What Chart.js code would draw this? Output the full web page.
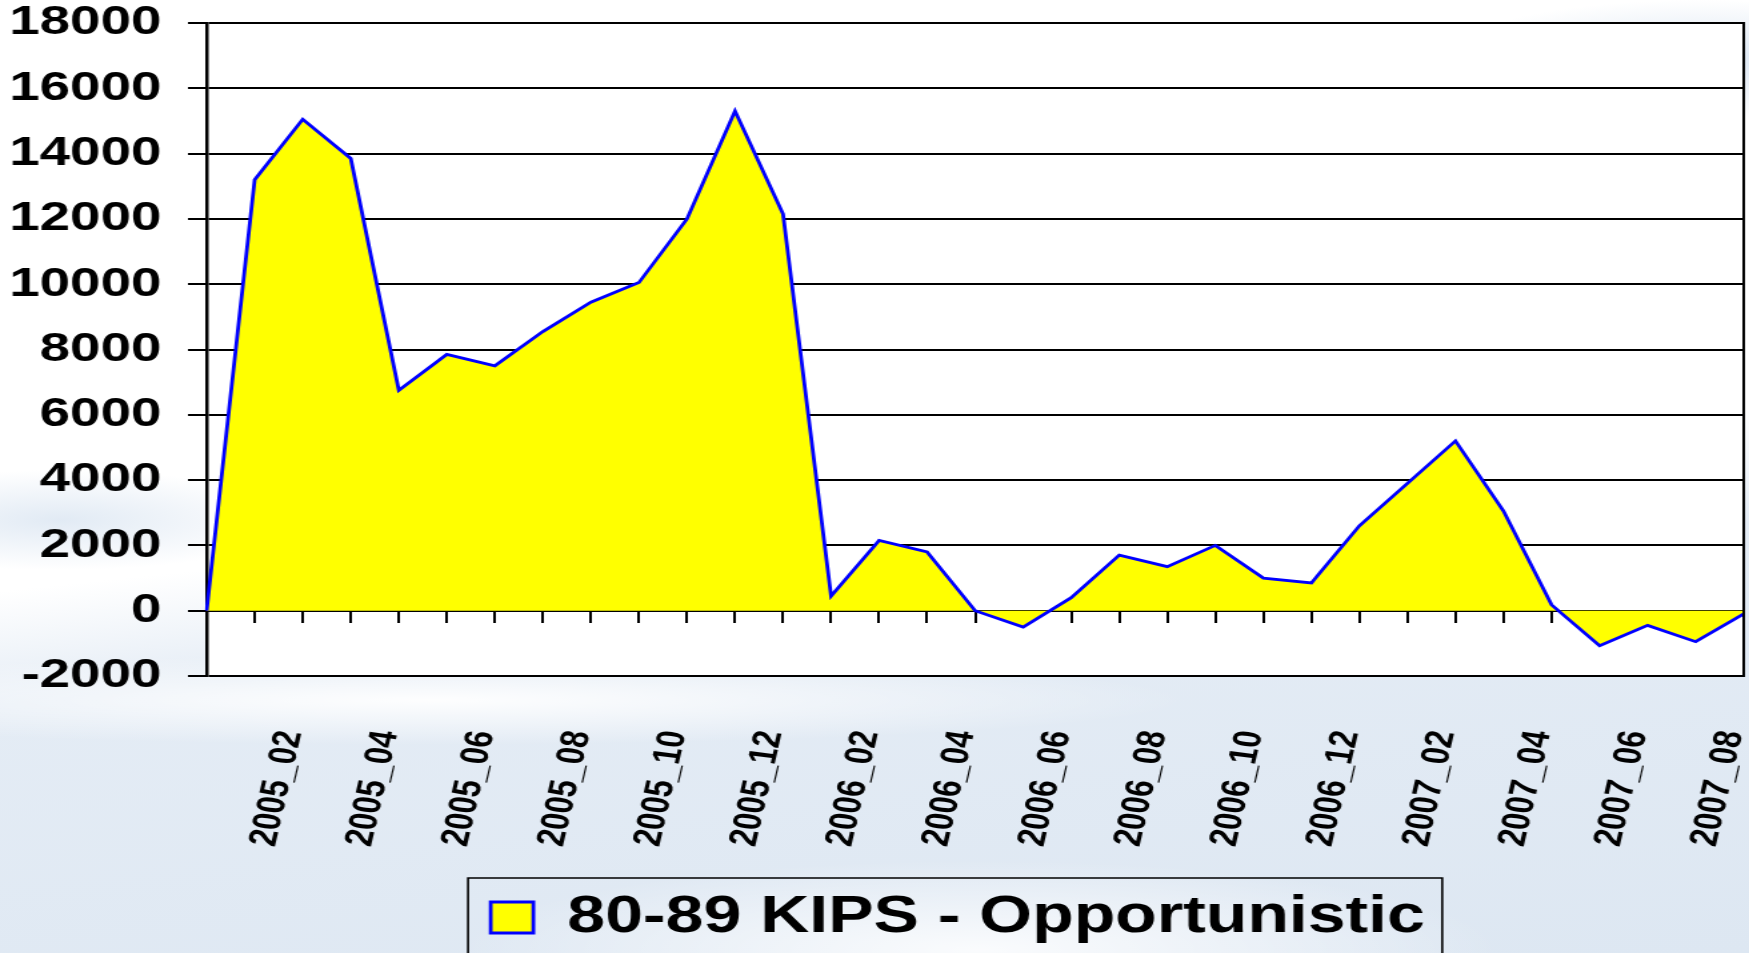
<!DOCTYPE html>
<html>
<head>
<meta charset="utf-8">
<script src="https://cdn.jsdelivr.net/npm/chart.js@4.4.0/dist/chart.umd.min.js"></script>
<style>
    html, body { margin: 0; padding: 0; overflow: hidden; }
    body {
        width: 1749px;
        height: 953px;
        background:
            radial-gradient(ellipse 760px 45px at 430px 700px, rgba(255,255,255,0.95), rgba(255,255,255,0)),
            radial-gradient(ellipse 520px 90px at 980px 950px, rgba(255,255,255,0.85), rgba(255,255,255,0)),
            radial-gradient(ellipse 260px 60px at 1700px 60px, rgba(214,226,240,0.9), rgba(214,226,240,0)),
            radial-gradient(ellipse 240px 50px at 60px 520px, rgba(222,232,243,0.9), rgba(222,232,243,0)),
            linear-gradient(174deg, #ffffff 0%, #ffffff 52%, #e4ecf5 62%, #dde7f2 100%);
    }
    /* the source slide is a 4:3 chart stretched to 16:9, so the canvas is stretched the same way */
    #wrap { width: 1312px; height: 953px; transform: scaleX(1.33308); transform-origin: 0 0; }
</style>
</head>
<body>
<div id="wrap"><canvas id="chart" width="1312" height="953"></canvas></div>
<script>
const categories = ['', '2005_01', '2005_02', '2005_03', '2005_04', '2005_05', '2005_06', '2005_07', '2005_08',
    '2005_09', '2005_10', '2005_11', '2005_12', '2006_01', '2006_02', '2006_03', '2006_04', '2006_05', '2006_06',
    '2006_07', '2006_08', '2006_09', '2006_10', '2006_11', '2006_12', '2007_01', '2007_02', '2007_03', '2007_04',
    '2007_05', '2007_06', '2007_07', '2007_08'];
const seriesName = '80-89 KIPS - Opportunistic';
const seriesValues = [0, 13200, 15050, 13850, 6750, 7850, 7500, 8550, 9450, 10050, 12000, 15300, 12150,
    450, 2150, 1800, 0, -500, 400, 1700, 1350, 2000, 1000, 850, 2600, 3900, 5200, 3050, 180, -1070, -450, -950, -100];
const yMin = -2000;
const yMax = 18000;
const yStep = 2000;

const fontFamily = "'Liberation Sans', Arial, sans-serif";

const plotFrame = {
    id: 'plotFrame',
    afterLayout(chart) {
        // legend sits a little left of the plot centre in the source
        chart.legend.left -= 13;
        chart.legend.right -= 13;
    },
    beforeDraw(chart) {
        const a = chart.chartArea;
        const c = chart.ctx;
        c.save();
        c.fillStyle = '#ffffff';
        c.fillRect(a.left, a.top, a.width, a.height);
        c.restore();
    },
    afterDraw(chart) {
        const a = chart.chartArea;
        const c = chart.ctx;
        c.save();
        c.strokeStyle = '#000';
        c.lineWidth = 2;
        c.beginPath();
        c.moveTo(a.right, a.top - 1);
        c.lineTo(a.right, a.bottom + 1);
        c.stroke();

        // box round the legend
        const hb = chart.legend.legendHitBoxes[0];
        if (hb) {
            c.lineWidth = 1.6;
            c.beginPath();
            c.moveTo(hb.left - 17, chart.height + 5);
            c.lineTo(hb.left - 17, hb.top - 14);
            c.lineTo(hb.left + hb.width + 13, hb.top - 14);
            c.lineTo(hb.left + hb.width + 13, chart.height + 5);
            c.stroke();
        }
        c.restore();
    }
};

new Chart(document.getElementById('chart'), {
    type: 'line',
    data: {
        labels: categories,
        datasets: [{
            label: seriesName,
            data: seriesValues,
            fill: 'origin',
            backgroundColor: '#ffff00',
            borderColor: '#0000ff',
            borderWidth: 2.8,
            pointRadius: 0,
            tension: 0
        }]
    },
    options: {
        responsive: false,
        animation: false,
        layout: { padding: { top: 23, right: 4, left: 0, bottom: 0 } },
        plugins: {
            tooltip: { enabled: false },
            legend: {
                position: 'bottom',
                fullSize: false,
                labels: {
                    color: '#000',
                    font: { family: fontFamily, size: 51, weight: 'bold' },
                    boxWidth: 32,
                    boxHeight: 31,
                    padding: 10
                }
            }
        },
        scales: {
            x: {
                type: 'category',
                position: { y: 0 },
                z: 1,
                grid: { drawOnChartArea: false, drawTicks: true, tickLength: 11, color: '#000', lineWidth: 2 },
                border: { color: '#000', width: 2 },
                ticks: { display: false, autoSkip: false },
                afterFit: s => { s.paddingLeft = 0; s.paddingRight = 0; }
            },
            x2: {
                type: 'category',
                position: 'bottom',
                grid: { display: false },
                border: { display: false },
                ticks: {
                    autoSkip: false,
                    minRotation: 80,
                    maxRotation: 80,
                    padding: 44,
                    labelOffset: -9,
                    color: '#000',
                    font: { family: fontFamily, size: 30, weight: 'bold' },
                    callback: function(v, i) {
                        return i > 0 && i % 2 === 0 ? this.getLabelForValue(v) : '';
                    }
                },
                afterFit: s => { s.height = 206; s.paddingLeft = 0; s.paddingRight = 0; }
            },
            y: {
                min: yMin,
                max: yMax,
                ticks: {
                    stepSize: yStep,
                    padding: 20,
                    color: '#000',
                    font: { family: fontFamily, size: 41, weight: 'bold' },
                    callback: v => String(v)
                },
                grid: { color: '#000', lineWidth: 2, tickLength: 14 },
                border: { color: '#000', width: 2.5 },
                afterFit: s => { s.width = 155; s.paddingTop = 0; s.paddingBottom = 0; }
            }
        }
    },
    plugins: [plotFrame]
});
</script>
</body>
</html>
